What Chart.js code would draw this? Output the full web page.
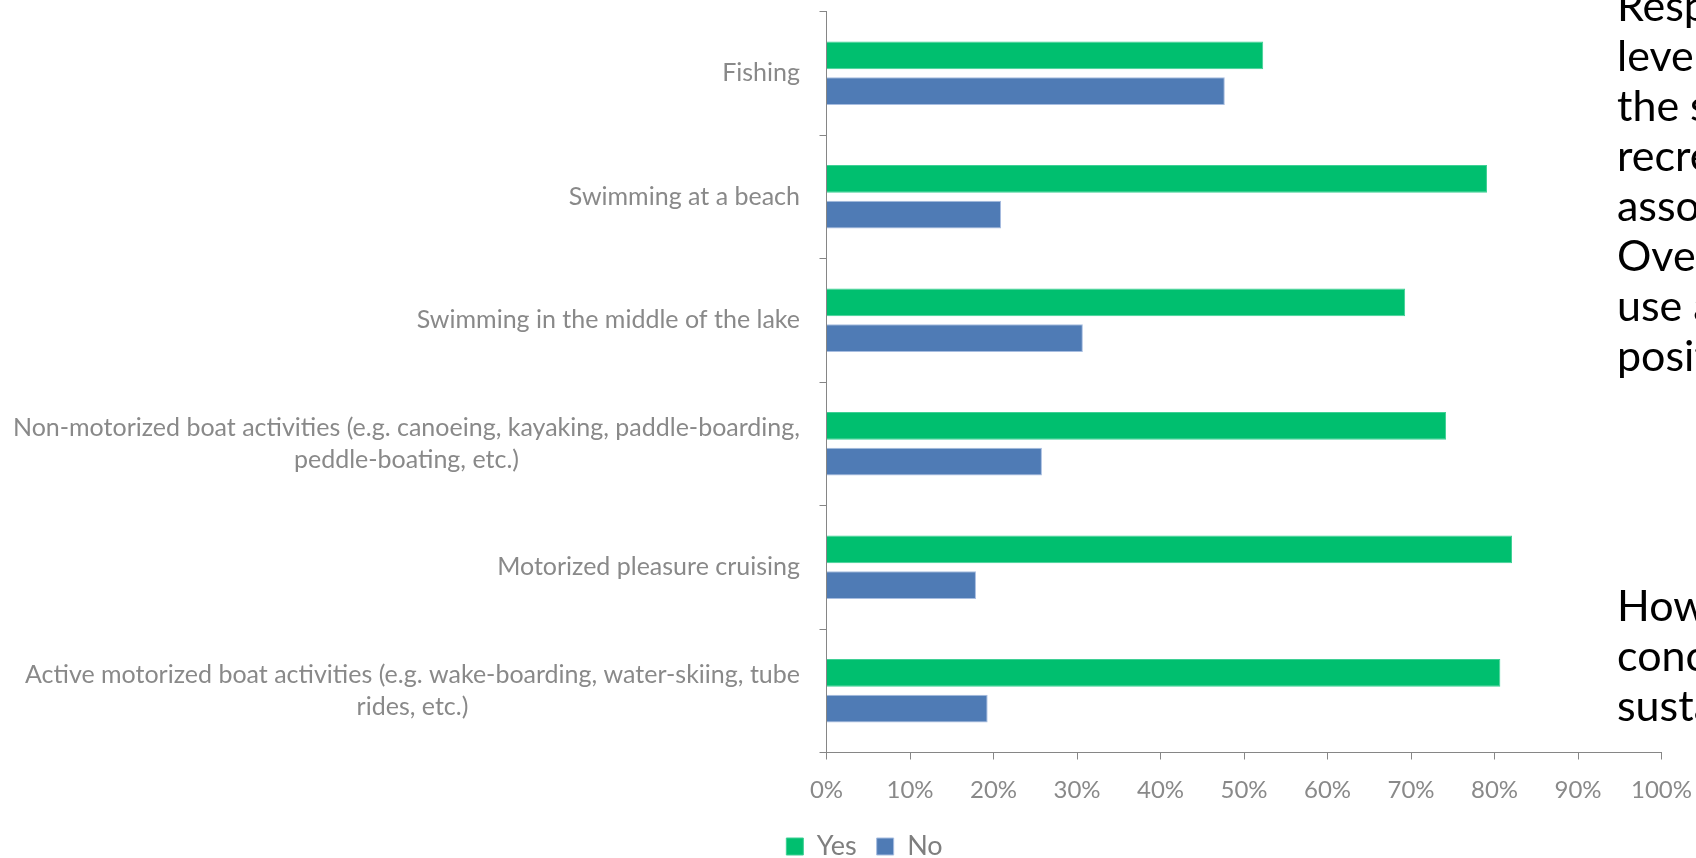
<!DOCTYPE html>
<html>
<head>
<meta charset="utf-8">
<title>Lake activities</title>
<script src="https://cdn.jsdelivr.net/npm/chart.js@4.4.1/dist/chart.umd.min.js"></script>
<style>
  html, body { margin: 0; padding: 0; background: #fff; overflow: hidden; width: 1696px; height: 858px; }
  #wrap { position: absolute; left: 0; top: 0; }
  .note { position: absolute; left: 1617px; font-family: Lato, sans-serif; font-size: 43px; line-height: 50px; color: #000; white-space: nowrap; }
</style>
</head>
<body>
<div id="wrap"><canvas id="myChart" width="1696" height="870"></canvas></div>
<div class="note" style="top:-20px">Respondents indicated their<br>level of comfort with<br>the safety of various<br>recreational activities<br>associated with the lake.<br>Overall, respondents<br>use and enjoy the lake<br>positively.</div>
<div class="note" style="top:580px">However, there are<br>concerns about its<br>sustainability.</div>
<script>
const activities = [
  ["Fishing"],
  ["Swimming at a beach"],
  ["Swimming in the middle of the lake"],
  ["Non-motorized boat activities (e.g. canoeing, kayaking, paddle-boarding,", "peddle-boating, etc.)"],
  ["Motorized pleasure cruising"],
  ["Active motorized boat activities (e.g. wake-boarding, water-skiing, tube", "rides, etc.)"]
];
const yesValues = [52.3, 79.1, 69.3, 74.2, 82.1, 80.7];
const noValues = [47.7, 20.9, 30.7, 25.8, 17.9, 19.3];
const percentTicks = [0, 10, 20, 30, 40, 50, 60, 70, 80, 90, 100];

const grey = "#898989";
const axisGrey = "#868686";

// y labels drawn by hand so wrapped lines are centred like Excel does
const catLabels = {
  id: "catLabels",
  afterDraw(chart) {
    const ctx = chart.ctx;
    const ys = chart.scales.y;
    const right = chart.chartArea.left - 26.5;
    ctx.save();
    ctx.font = "25px Lato";
    ctx.fillStyle = grey;
    ctx.textAlign = "center";
    ctx.textBaseline = "middle";
    activities.forEach((lines, i) => {
      const cy = ys.getPixelForTick(i);
      const w = Math.max(...lines.map(l => ctx.measureText(l).width));
      const cx = right - w / 2;
      const lh = 32.4;
      lines.forEach((l, j) => {
        ctx.fillText(l, cx, cy + (j - (lines.length - 1) / 2) * lh);
      });
    });
    ctx.restore();
  }
};

Chart.defaults.font.family = "Lato";

new Chart("myChart", {
  type: "bar",
  data: {
    labels: activities,
    datasets: [{
      label: "Yes",
      data: yesValues,
      backgroundColor: "#00BF6F",
      borderColor: "#3fd095",
      borderWidth: 1,
      categoryPercentage: 0.578,
      barPercentage: 0.773
    }, {
      label: "No",
      data: noValues,
      backgroundColor: "#4F7BB5",
      borderColor: "#a7bde0",
      borderWidth: 1,
      categoryPercentage: 0.578,
      barPercentage: 0.773
    }]
  },
  options: {
    indexAxis: "y",
    responsive: false,
    animation: false,
    layout: { padding: { left: 67.5, right: 34.5, top: 11.5, bottom: 0 } },
    scales: {
      y: {
        ticks: { display: false },
        grid: { offset: true, drawOnChartArea: false, tickLength: 7, color: axisGrey },
        border: { color: axisGrey },
        afterFit(scale) { scale.width = 759; }
      },
      x: {
        min: 0,
        max: 100,
        afterBuildTicks(scale) { scale.ticks = percentTicks.map(v => ({ value: v })); },
        ticks: { color: grey, font: { size: 24 }, padding: 16, callback: v => v + "%" },
        grid: { drawOnChartArea: false, tickLength: 7, color: axisGrey },
        border: { color: axisGrey },
        afterFit(scale) {
          scale.height = 60.5;
          scale.paddingLeft = 0;
          scale.paddingRight = 0;
        }
      }
    },
    plugins: {
      legend: {
        position: "bottom",
        labels: { boxWidth: 17, boxHeight: 17, padding: 20, color: "#7f7f7f", font: { size: 27 } }
      },
      tooltip: { enabled: false }
    }
  },
  plugins: [catLabels]
});
</script>
</body>
</html>
